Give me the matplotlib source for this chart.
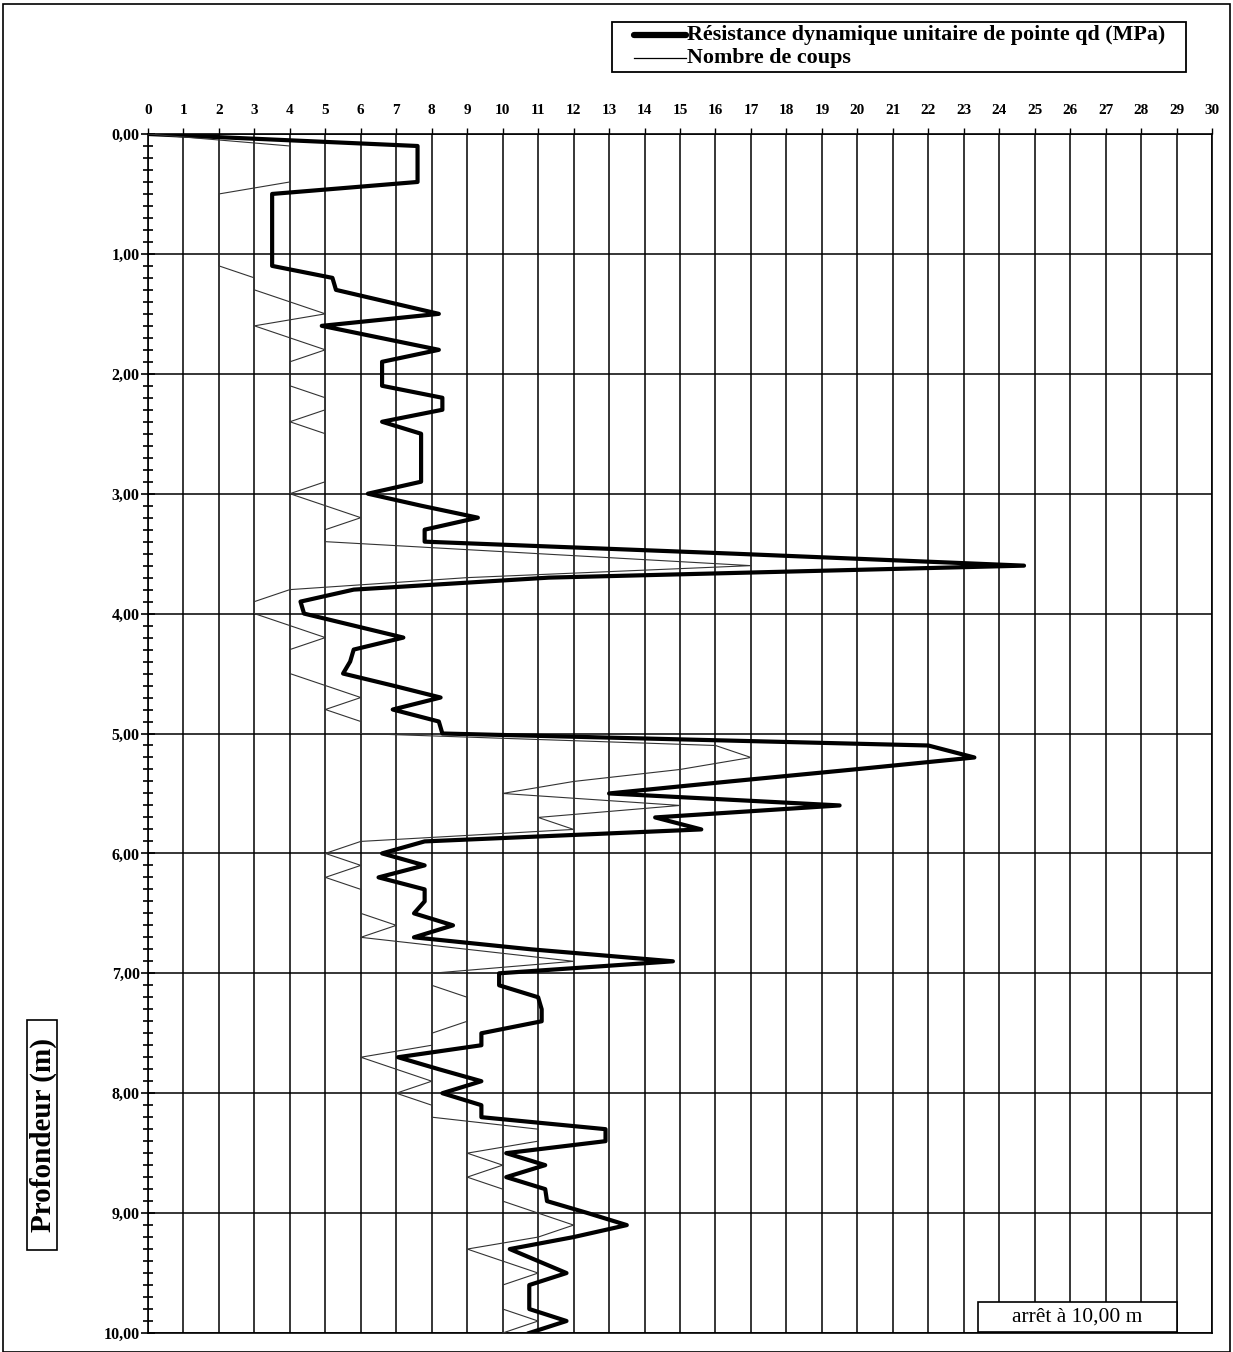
import matplotlib
matplotlib.use("Agg")
import matplotlib.pyplot as plt
from matplotlib.lines import Line2D
from matplotlib.patches import Rectangle
from matplotlib.ticker import MultipleLocator, FixedLocator

# ---- data ----
depth = [0.0, 0.1, 0.2, 0.3, 0.4, 0.5, 0.6, 0.7, 0.8, 0.9,
         1.0, 1.1, 1.2, 1.3, 1.4, 1.5, 1.6, 1.7, 1.8, 1.9,
         2.0, 2.1, 2.2, 2.3, 2.4, 2.5, 2.6, 2.7, 2.8, 2.9,
         3.0, 3.1, 3.2, 3.3, 3.4, 3.5, 3.6, 3.7, 3.8, 3.9,
         4.0, 4.1, 4.2, 4.3, 4.4, 4.5, 4.6, 4.7, 4.8, 4.9,
         5.0, 5.1, 5.2, 5.3, 5.4, 5.5, 5.6, 5.7, 5.8, 5.9,
         6.0, 6.1, 6.2, 6.3, 6.4, 6.5, 6.6, 6.7, 6.8, 6.9,
         7.0, 7.1, 7.2, 7.3, 7.4, 7.5, 7.6, 7.7, 7.8, 7.9,
         8.0, 8.1, 8.2, 8.3, 8.4, 8.5, 8.6, 8.7, 8.8, 8.9,
         9.0, 9.1, 9.2, 9.3, 9.4, 9.5, 9.6, 9.7, 9.8, 9.9,
         10.0]

qd = [0.0, 7.6, 7.6, 7.6, 7.6, 3.5, 3.5, 3.5, 3.5, 3.5,
      3.5, 3.5, 5.2, 5.3, 6.75, 8.2, 4.9, 6.55, 8.2, 6.6,
      6.6, 6.6, 8.3, 8.3, 6.6, 7.7, 7.7, 7.7, 7.7, 7.7,
      6.2, 7.7, 9.3, 7.8, 7.8, 16.5, 24.7, 11.3, 5.8, 4.3,
      4.4, 5.8, 7.2, 5.8, 5.7, 5.5, 6.9, 8.25, 6.9, 8.2,
      8.3, 22.0, 23.3, 19.9, 16.4, 13.0, 19.5, 14.3, 15.6, 7.8,
      6.6, 7.8, 6.5, 7.8, 7.8, 7.5, 8.6, 7.5, 10.8, 14.8,
      9.9, 9.9, 11.0, 11.1, 11.1, 9.4, 9.4, 7.05, 8.2, 9.4,
      8.3, 9.4, 9.4, 12.9, 12.9, 10.1, 11.2, 10.1, 11.2, 11.25,
      12.4, 13.5, 12.0, 10.2, 11.0, 11.8, 10.75, 10.75, 10.75, 11.8,
      10.75]

coups = [0, 4, 4, 4, 4, 2, 2, 2, 2, 2,
         2, 2, 3, 3, 4, 5, 3, 4, 5, 4,
         4, 4, 5, 5, 4, 5, 5, 5, 5, 5,
         4, 5, 6, 5, 5, 11, 17, 9, 4, 3,
         3, 4, 5, 4, 4, 4, 5, 6, 5, 6,
         6, 16, 17, 15, 12, 10, 15, 11, 12, 6,
         5, 6, 5, 6, 6, 6, 7, 6, 9, 12,
         8, 8, 9, 9, 9, 8, 8, 6, 7, 8,
         7, 8, 8, 11, 11, 9, 10, 9, 10, 10,
         11, 12, 11, 9, 10, 11, 10, 10, 10, 11,
         10]

x_ticks = list(range(0, 31))
y_ticks = [0, 1, 2, 3, 4, 5, 6, 7, 8, 9, 10]
y_labels = ["0,00", "1,00", "2,00", "3,00", "4,00", "5,00",
            "6,00", "7,00", "8,00", "9,00", "10,00"]

label_qd = "Résistance dynamique unitaire de pointe qd (MPa)"
label_coups = "Nombre de coups"
y_title = "Profondeur (m)"
stop_text = "arrêt à 10,00 m"

# ---- figure ----
W, H = 1233, 1352
fig = plt.figure(figsize=(W / 100, H / 100), dpi=100)
serif = ["Liberation Serif", "DejaVu Serif"]
plt.rcParams["font.family"] = serif


def fx(px):
    return px / W


def fy(py):
    return 1 - py / H


x0, x1 = 148, 1212
y0, y1 = 134, 1333
ax = fig.add_axes([fx(x0), fy(y1), (x1 - x0) / W, (y1 - y0) / H])
ax.set_xlim(0, 30)
ax.set_ylim(10, 0)

# grid
ax.xaxis.set_major_locator(FixedLocator(x_ticks))
ax.yaxis.set_major_locator(FixedLocator(y_ticks))
ax.yaxis.set_minor_locator(MultipleLocator(0.1))
ax.grid(True, which="major", color="black", linewidth=1.1)
ax.set_axisbelow(True)

ax.xaxis.tick_top()
ax.set_xticklabels([str(v) for v in x_ticks])
ax.set_yticklabels(y_labels)
ax.tick_params(axis="x", which="major", direction="out", length=4, width=1,
               labelsize=11, pad=8, colors="black")
ax.tick_params(axis="y", which="major", direction="inout", length=10, width=1.2,
               labelsize=11.5, pad=1)
ax.tick_params(axis="y", which="minor", direction="inout", length=6.5, width=1.2)
for lab in ax.get_yticklabels() + ax.get_xticklabels():
    lab.set_fontweight("bold")
for s in ax.spines.values():
    s.set_linewidth(1.2)
    s.set_color("black")

# series
ax.plot(qd, depth, color="black", linewidth=3.0, solid_joinstyle="round",
        zorder=3, label=label_qd)
ax.plot(coups, depth, color="#333333", linewidth=0.8, zorder=4,
        label=label_coups)

# legend (drawn by hand to match the reference box)
fig.patches.append(Rectangle((fx(612), fy(72)), (1186 - 612) / W, 50 / H,
                             transform=fig.transFigure, facecolor="white",
                             edgecolor="black", linewidth=1.3))
fig.lines.append(Line2D([fx(634), fx(686)], [fy(35), fy(35)],
                        transform=fig.transFigure, color="black",
                        linewidth=4.5, solid_capstyle="round"))
fig.lines.append(Line2D([fx(634), fx(686)], [fy(58), fy(58)],
                        transform=fig.transFigure, color="black",
                        linewidth=0.9))
fig.text(fx(687), fy(35), label_qd, ha="left", va="center", fontsize=15.8,
         fontweight="bold", fontfamily=serif)
fig.text(fx(687), fy(58), label_coups, ha="left", va="center", fontsize=15.8,
         fontweight="bold", fontfamily=serif)

# stop box
fig.patches.append(Rectangle((fx(978), fy(1332)), (1177 - 978) / W, 30 / H,
                             transform=fig.transFigure, facecolor="white",
                             edgecolor="black", linewidth=1.2, zorder=6))
fig.text(fx(1077), fy(1317), stop_text, ha="center", va="center",
         fontsize=15.5, fontfamily=serif, zorder=7)

# y title
fig.patches.append(Rectangle((fx(27), fy(1250)), 30 / W, 230 / H,
                             transform=fig.transFigure, facecolor="white",
                             edgecolor="black", linewidth=1.2))
fig.text(fx(43), fy(1135), y_title, rotation=90, ha="center", va="center",
         fontsize=21, fontweight="bold", fontfamily=serif)

# outer frame
fig.patches.append(Rectangle((fx(3), 0), (W - 6) / W, 1 - 4 / H,
                             transform=fig.transFigure, fill=False,
                             edgecolor="black", linewidth=1.2))

fig.savefig("out.png", dpi=100)
